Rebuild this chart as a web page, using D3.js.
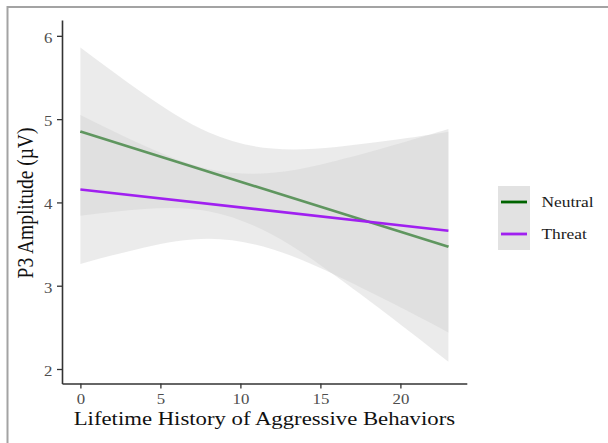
<!DOCTYPE html>
<html>
<head>
<meta charset="utf-8">
<script src="https://cdn.jsdelivr.net/npm/d3@7"></script>
<style>
  html, body { margin: 0; padding: 0; background: #ffffff; }
  svg { display: block; }
</style>
</head>
<body>
<svg id="chart" width="608" height="443"></svg>
<script>
// Predictor values at which the fitted lines and confidence bands are given
const bandX = [0, 4, 8, 12, 16, 20, 23];

// Neutral condition: fitted line endpoints and 95% confidence band
const neutralLineX = [0, 23];
const neutralLineY = [4.85, 3.468];
const neutralLower = [3.840, 3.921, 3.895, 3.612, 3.110, 2.535, 2.088];
const neutralUpper = [5.860, 5.299, 4.843, 4.646, 4.666, 4.760, 4.848];

// Threat condition: fitted line endpoints and 95% confidence band
const threatLineX = [0, 23];
const threatLineY = [4.156, 3.660];
const threatLower = [3.262, 3.460, 3.564, 3.439, 3.122, 2.740, 2.439];
const threatUpper = [5.050, 4.680, 4.402, 4.355, 4.500, 4.710, 4.881];

const xTicks = [0, 5, 10, 15, 20];
const yTicks = [2, 3, 4, 5, 6];
const legendLabels = ["Neutral", "Threat"];

const svg = d3.select("#chart");
const font = "'Liberation Serif', 'Times New Roman', serif";
// The figure's glyphs are drawn slightly wide
const stretch = 1.2;

// Panel geometry
const panel = { left: 62, right: 466.8, top: 20, bottom: 383.5 };

const x = d3.scaleLinear().domain([-1.15, 24.15]).range([panel.left, panel.right]);
const y = d3.scaleLinear().domain([1.826, 6.19]).range([panel.bottom, panel.top]);

// Outer frame
svg.append("line").attr("x1", 7).attr("x2", 608).attr("y1", 7).attr("y2", 7)
  .attr("stroke", "#a3a3a3").attr("stroke-width", 2);
svg.append("line").attr("x1", 7.5).attr("x2", 7.5).attr("y1", 6).attr("y2", 443)
  .attr("stroke", "#a3a3a3").attr("stroke-width", 2);

const area = (lo, hi) => d3.area()
  .x((d, i) => x(bandX[i]))
  .y0((d, i) => y(lo[i]))
  .y1((d, i) => y(hi[i]))
  .curve(d3.curveNatural)(bandX);

const line = (xs, ys) => d3.line()
  .x((d, i) => x(xs[i]))
  .y((d, i) => y(ys[i]))(xs);

const bandFill = "#d3d3d3";
const bandOpacity = 0.45;
const colors = { Neutral: "#006400", Threat: "#a020f0" };

const plot = svg.append("g");
// Neutral: band then line
plot.append("path").attr("d", area(neutralLower, neutralUpper))
  .attr("fill", bandFill).attr("fill-opacity", bandOpacity);
plot.append("path").attr("d", line(neutralLineX, neutralLineY))
  .attr("fill", "none").attr("stroke", colors.Neutral).attr("stroke-width", 2.6);
// Threat: band then line
plot.append("path").attr("d", area(threatLower, threatUpper))
  .attr("fill", bandFill).attr("fill-opacity", bandOpacity);
plot.append("path").attr("d", line(threatLineX, threatLineY))
  .attr("fill", "none").attr("stroke", colors.Threat).attr("stroke-width", 2.6);

// Axes
const styleAxis = g => {
  g.attr("font-family", font).attr("font-size", 14);
  g.select(".domain").attr("stroke", "#333333").attr("stroke-width", 1.6);
  g.selectAll(".tick line").attr("stroke", "#333333").attr("stroke-width", 1.3);
  g.selectAll(".tick text").attr("fill", "#4d4d4d")
    .style("font-family", font).style("font-size", "14px")
    .attr("transform", `scale(${stretch},1)`);
};

svg.append("g")
  .attr("transform", `translate(0,${panel.bottom})`)
  .call(d3.axisBottom(x).tickValues(xTicks).tickFormat(d3.format("d"))
    .tickSize(5).tickSizeOuter(0).tickPadding(6))
  .call(styleAxis);

svg.append("g")
  .attr("transform", `translate(${panel.left},0)`)
  .call(d3.axisLeft(y).tickValues(yTicks).tickFormat(d3.format("d"))
    .tickSize(5).tickSizeOuter(0).tickPadding(2.9))
  .call(styleAxis)
  .call(g => g.selectAll(".tick text").attr("dy", "0.45em"));

// Axis titles
svg.append("text")
  .attr("transform", `translate(${(panel.left + panel.right) / 2},425) scale(1.23,1)`)
  .attr("text-anchor", "middle")
  .style("font-family", font).style("font-size", "18.5px").attr("fill", "#111111")
  .text("Lifetime History of Aggressive Behaviors");

svg.append("text")
  .attr("transform", `translate(33,203) scale(${stretch},1) rotate(-90)`)
  .attr("text-anchor", "middle")
  .style("font-family", font).style("font-size", "19.5px").attr("fill", "#111111")
  .text("P3 Amplitude (µV)");

// Legend
const legend = svg.append("g").attr("transform", "translate(498,186)");
legendLabels.forEach((label, i) => {
  const k = legend.append("g").attr("transform", `translate(0,${i * 32})`);
  k.append("rect").attr("width", 32).attr("height", 32).attr("fill", "#e2e2e2");
  k.append("line").attr("x1", 3).attr("x2", 29).attr("y1", 16).attr("y2", 16)
    .attr("stroke", colors[label]).attr("stroke-width", 2.8);
  k.append("text")
    .attr("transform", `translate(43.5,16) scale(${stretch},1)`)
    .attr("dy", "0.35em")
    .style("font-family", font).style("font-size", "14.5px").attr("fill", "#1a1a1a")
    .text(label);
});
</script>
</body>
</html>
